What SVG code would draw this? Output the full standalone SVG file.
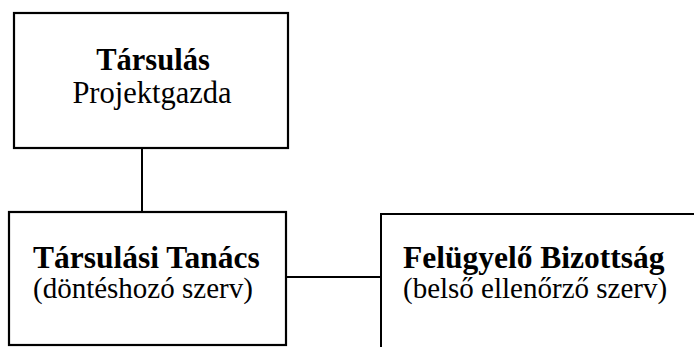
<svg xmlns="http://www.w3.org/2000/svg" width="694" height="347" viewBox="0 0 694 347">
<style>
.box{fill:#fff;stroke:#000;stroke-width:2.2}
.ln{fill:none;stroke:#000;stroke-width:2}
.b{font-family:"Liberation Serif","Times New Roman",serif;font-weight:bold;font-size:31.5px;fill:#000}
.r{font-family:"Liberation Serif","Times New Roman",serif;font-size:29px;fill:#000}
.t{font-size:30.5px}
</style>
<rect width="694" height="347" fill="#fff"/>
<g id="connectors">
<line class="ln" x1="142" y1="148" x2="142" y2="212"/>
<line class="ln" x1="286" y1="277" x2="381" y2="277"/>
</g>
<g id="tarsulas">
<rect class="box" x="14" y="13" width="274" height="135"/>
<text class="b t" x="153" y="70" text-anchor="middle">Társulás</text>
<text class="r t" x="152" y="103" text-anchor="middle">Projektgazda</text>
</g>
<g id="tanacs">
<rect class="box" x="9" y="212" width="277" height="133"/>
<text class="b" x="33" y="268">Társulási Tanács</text>
<text class="r" x="33" y="298">(döntéshozó szerv)</text>
</g>
<g id="bizottsag">
<path class="ln" d="M381 347 V214 H694"/>
<text class="b" x="403" y="268">Felügyelő Bizottság</text>
<text class="r" x="403" y="298">(belső ellenőrző szerv)</text>
</g>
</svg>
